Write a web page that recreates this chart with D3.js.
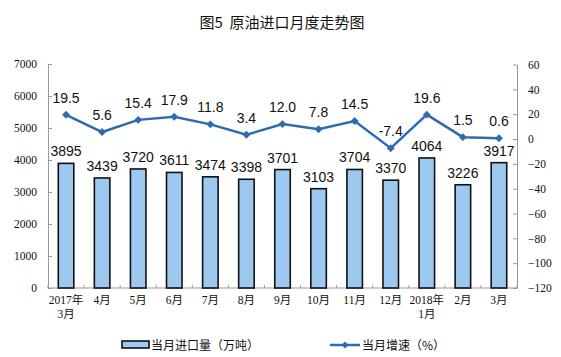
<!DOCTYPE html>
<html><head><meta charset="utf-8">
<script src="https://cdn.jsdelivr.net/npm/d3@7"></script>
<style>body{margin:0;background:#fff}svg{display:block}</style>
</head><body>
<svg id="c" width="561" height="357"></svg>
<script>
const categories = [["2017年","3月"],["4月"],["5月"],["6月"],["7月"],["8月"],["9月"],["10月"],["11月"],["12月"],["2018年","1月"],["2月"],["3月"]];
const imports = [3895,3439,3720,3611,3474,3398,3701,3103,3704,3370,4064,3226,3917];
const growth = [19.5,5.6,15.4,17.9,11.8,3.4,12.0,7.8,14.5,-7.4,19.6,1.5,0.6];
const growthLabels = ["19.5","5.6","15.4","17.9","11.8","3.4","12.0","7.8","14.5","-7.4","19.6","1.5","0.6"];
const leftTicks = [0,1000,2000,3000,4000,5000,6000,7000];
const rightTicks = [60,40,20,0,-20,-40,-60,-80,-100,-120];
const title = "图5\u00A0\u00A0原油进口月度走势图";
const legendBar = "当月进口量（万吨）";
const legendLine = "当月增速（%）";

const svg = d3.select("#c");
const L = 48, R = 517, T = 64, B = 288;
const idx = categories.map((d,i)=>i);
const x = d3.scaleBand().domain(idx).range([L,R]).paddingInner(0.57).paddingOuter(0.285);
const yL = d3.scaleLinear().domain([0,7000]).range([B,T]);
const yR = d3.scaleLinear().domain([-120,60]).range([B,T+0.5]);
const serif = "'Liberation Serif','Noto Sans CJK SC',serif";
const sans = "Arial,'Liberation Sans','Noto Sans CJK SC',sans-serif";

svg.append("text").attr("x",282).attr("y",28).attr("text-anchor","middle")
  .attr("font-family","'Noto Sans CJK SC',sans-serif").attr("font-size",15).attr("fill","#111").text(title);

// left axis
const gl = svg.append("g").attr("transform",`translate(${L},0)`)
  .call(d3.axisLeft(yL).tickValues(leftTicks).tickFormat(d3.format("d")).tickSizeInner(-4).tickSizeOuter(0).tickPadding(11));
gl.attr("font-family",serif).attr("font-size",11.5);
gl.select(".domain").attr("stroke","#999");
gl.selectAll(".tick line").attr("stroke","#999");
gl.selectAll("text").attr("fill","#111");

// right axis
const gr = svg.append("g").attr("transform",`translate(${R},0)`)
  .call(d3.axisRight(yR).tickValues(rightTicks).tickSizeInner(-4).tickSizeOuter(0).tickPadding(11));
gr.attr("font-family",serif).attr("font-size",11.5);
gr.select(".domain").attr("stroke","#999");
gr.selectAll(".tick line").attr("stroke","#999");
gr.selectAll("text").attr("fill","#111");

// bottom axis
const bound = d3.range(categories.length+1).map(i=>L + (R-L)*i/categories.length);
svg.append("line").attr("x1",L).attr("x2",R).attr("y1",B).attr("y2",B).attr("stroke","#999");
svg.selectAll(".bt").data(bound).join("line").attr("x1",d=>d).attr("x2",d=>d)
  .attr("y1",B).attr("y2",B-3).attr("stroke","#999");
const xl = svg.selectAll(".xl").data(categories).join("text")
  .attr("font-family",serif).attr("font-size",11.5).attr("fill","#111").attr("text-anchor","middle");
xl.each(function(d,i){
  const t = d3.select(this);
  d.forEach((s,k)=>t.append("tspan").attr("x",x(i)+x.bandwidth()/2).attr("y",B+16+k*14).text(s));
});

// bars
svg.selectAll(".bar").data(imports).join("rect")
  .attr("x",(d,i)=>x(i)).attr("width",x.bandwidth())
  .attr("y",d=>yL(d)).attr("height",d=>B-yL(d))
  .attr("fill","#9DC8F0").attr("stroke","#111").attr("stroke-width",1.6);
svg.selectAll(".bl").data(imports).join("text")
  .attr("x",(d,i)=>x(i)+x.bandwidth()/2).attr("y",d=>yL(d)-7)
  .attr("text-anchor","middle").attr("font-family",sans).attr("font-size",14).attr("fill","#111").text(d=>d);

// line
const cx = i=>x(i)+x.bandwidth()/2;
svg.append("path").datum(growth)
  .attr("d",d3.line().x((d,i)=>cx(i)).y(d=>yR(d)))
  .attr("fill","none").attr("stroke","#2F6BAE").attr("stroke-width",2.5);
svg.selectAll(".pt").data(growth).join("path")
  .attr("d",d3.symbol(d3.symbolDiamond2,40))
  .attr("transform",(d,i)=>`translate(${cx(i)},${yR(d)})`).attr("fill","#2F6BAE");
svg.selectAll(".gl").data(growth).join("text")
  .attr("x",(d,i)=>cx(i)).attr("y",d=>yR(d)-12)
  .attr("text-anchor","middle").attr("font-family",sans).attr("font-size",14).attr("fill","#111")
  .text((d,i)=>growthLabels[i]);

// legend
svg.append("rect").attr("x",122).attr("y",341).attr("width",27).attr("height",7)
  .attr("fill","#9DC8F0").attr("stroke","#111").attr("stroke-width",1.6);
svg.append("text").attr("x",151).attr("y",349.5).attr("font-family","'Noto Sans CJK SC',sans-serif")
  .attr("font-size",12).attr("fill","#111").text(legendBar);
svg.append("line").attr("x1",330).attr("x2",360).attr("y1",345).attr("y2",345)
  .attr("stroke","#2F6BAE").attr("stroke-width",2.5);
svg.append("path").attr("d",d3.symbol(d3.symbolDiamond2,30)).attr("transform","translate(345,345)").attr("fill","#2F6BAE");
svg.append("text").attr("x",362).attr("y",349.5).attr("font-family","'Noto Sans CJK SC',sans-serif")
  .attr("font-size",12).attr("fill","#111").text(legendLine);
</script>
</body></html>
